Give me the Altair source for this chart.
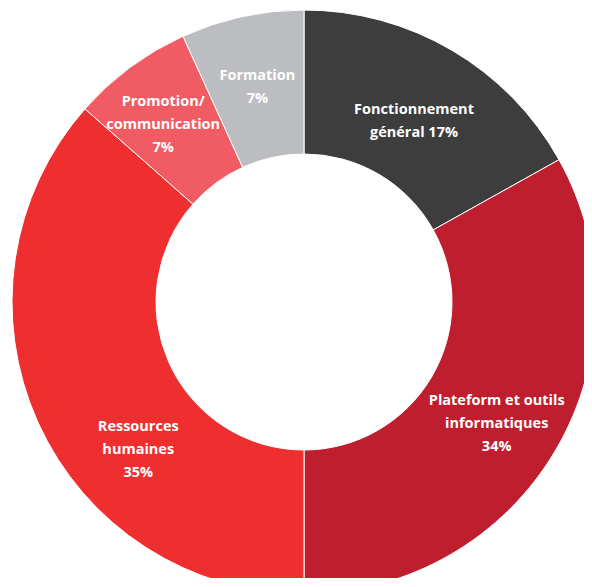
import math
import altair as alt
import pandas as pd

# Data (share of budget, %, clockwise from 12 o'clock)
categories = [
    "Fonctionnement général",
    "Plateform et outils informatiques",
    "Ressources humaines",
    "Promotion/communication",
    "Formation",
]
values = [16.9, 33.1, 36.5, 6.7, 6.8]
label_texts = [
    "Fonctionnement\ngénéral 17%",
    "Plateform et outils\ninformatiques\n34%",
    "Ressources\nhumaines\n35%",
    "Promotion/\ncommunication\n7%",
    "Formation\n7%",
]
colors = ["#3d3d3d", "#be1e2d", "#ee2e2f", "#f15c64", "#bcbdc0"]

df = pd.DataFrame({"cat": categories, "value": values, "idx": list(range(len(values)))})

# label placement style: (angle nudge in degrees from slice middle, radius in px)
label_style = {
    "Fonctionnement général": (1.0, 211),
    "Plateform et outils informatiques": (1.9, 228),
    "Ressources humaines": (-17.4, 222),
    "Promotion/communication": (-2.0, 226),
    "Formation": (0.0, 220),
}
cum = 0.0
mids, radii = [], []
for c, v in zip(categories, values):
    da, rr = label_style[c]
    mids.append(cum + v / 2 + da / 3.6)
    radii.append(rr)
    cum += v
lab = pd.DataFrame({"cat": categories, "label": label_texts, "mid": mids, "r": radii,
                    "nlines": [t.count("\n") + 1 for t in label_texts]})

CX, CY = 296, 294
LH = 23
theta_scale = alt.Scale(domain=[0, 100], range=[0, 2 * math.pi])

arcs = alt.Chart(df).mark_arc(radius=292, radius2=148, stroke="white", strokeWidth=1).encode(
    x=alt.value(CX),
    y=alt.value(CY),
    theta=alt.Theta("value:Q", stack=True, scale=theta_scale),
    order=alt.Order("idx:Q"),
    color=alt.Color("cat:N", scale=alt.Scale(domain=categories, range=colors), legend=None),
)


def text_layer(n):
    return alt.Chart(lab).transform_filter(alt.datum.nlines == n).mark_text(
        dy=-(n - 1) * LH / 2,
        lineBreak="\n",
        align="center",
        baseline="middle",
        lineHeight=LH,
        font="Open Sans",
        fontWeight="bold",
        fontSize=14.5,
        color="white",
    ).encode(
        x=alt.value(CX),
        y=alt.value(CY),
        theta=alt.Theta("mid:Q", stack=None, scale=theta_scale),
        radius=alt.Radius("r:Q", scale=None),
        text="label:N",
    )


chart = (
    alt.layer(arcs, text_layer(2), text_layer(3))
    .resolve_scale(theta="independent")
    .properties(width=576, height=570, autosize=alt.AutoSizeParams(type="none"), padding=0)
    .configure_view(stroke=None)
)

chart.save("out.html", embed_options={"renderer": "svg", "actions": False})
